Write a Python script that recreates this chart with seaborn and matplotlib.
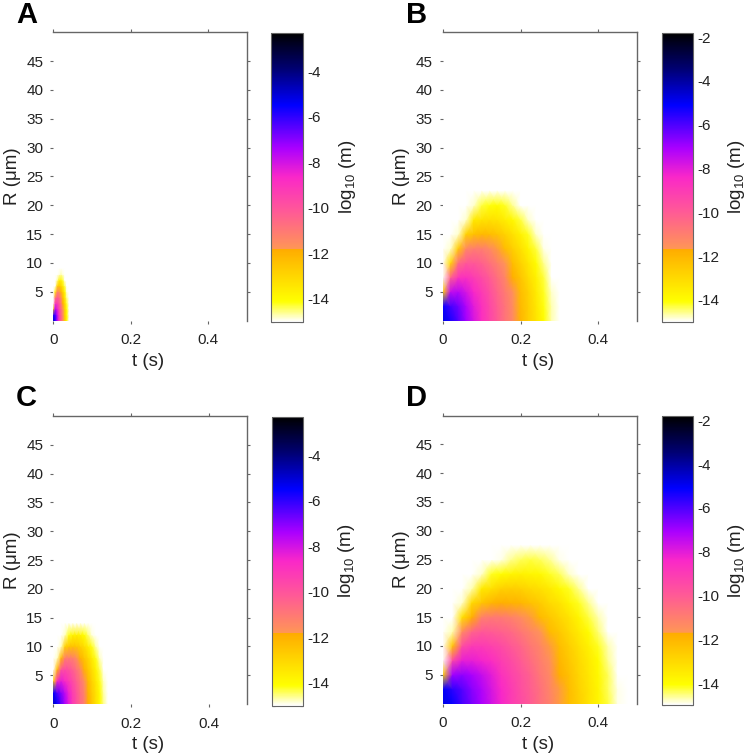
import matplotlib
matplotlib.use("Agg")
import matplotlib.pyplot as plt
import pandas as pd
import seaborn as sns
from matplotlib.colors import LinearSegmentedColormap

# log10(m) at each t (columns) and R (rows)
a_t = [0, 0.005, 0.01, 0.015, 0.02, 0.025, 0.03, 0.035, 0.04]
a_r = [0, 1, 2, 3, 4, 5, 6, 7, 8, 9]
a_values = [
    [-4.8, -5.8, -7.4, -9.0, -10.3, -11.5, -12.7, -13.9, -15],
    [-6, -6.2, -7.6, -9.1, -10.4, -11.6, -12.8, -13.9, -15],
    [-13, -7.6, -8.3, -9.5, -10.6, -11.7, -12.9, -14.1, -15],
    [-15, -9.3, -9.2, -10.0, -11.0, -12.0, -13.1, -14.3, -15],
    [-15, -11.3, -10.2, -10.6, -11.5, -12.4, -13.5, -14.6, -15],
    [-15, -13.8, -11.5, -11.5, -12.1, -12.9, -13.9, -14.9, -15],
    [-15, -15, -13.0, -12.5, -12.9, -13.6, -14.4, -15, -15],
    [-15, -15, -14.7, -13.8, -13.8, -14.3, -15, -15, -15],
    [-15, -15, -15, -14.9, -14.7, -14.9, -15, -15, -15],
    [-15, -15, -15, -15, -15, -15, -15, -15, -15],
]

b_t = [0, 0.02, 0.04, 0.06, 0.08, 0.10, 0.12, 0.14, 0.16, 0.18, 0.20, 0.22, 0.24, 0.26, 0.28, 0.30]
b_r = [0, 2.5, 5, 7.5, 10, 12.5, 15, 17.5, 20, 22.5]
b_values = [
    [-4.8, -5.4, -6.1, -7.0, -7.8, -8.6, -9.3, -10.0, -10.7, -11.3, -12.0, -12.7, -13.3, -14.0, -14.7, -15],
    [-5.2, -5.9, -6.4, -7.2, -8.0, -8.7, -9.4, -10.1, -10.7, -11.4, -12.1, -12.7, -13.4, -14.1, -14.7, -15],
    [-13, -7.5, -7.3, -7.8, -8.4, -9.0, -9.6, -10.3, -10.9, -11.5, -12.2, -12.8, -13.5, -14.2, -14.8, -15],
    [-15, -10.3, -8.8, -8.7, -9.1, -9.5, -10.0, -10.6, -11.2, -11.8, -12.4, -13.1, -13.7, -14.3, -15, -15],
    [-15, -13.0, -10.5, -9.9, -9.9, -10.2, -10.6, -11.1, -11.6, -12.2, -12.8, -13.4, -14.0, -14.6, -15, -15],
    [-15, -14.8, -12.6, -11.3, -11.0, -11.0, -11.3, -11.7, -12.2, -12.7, -13.2, -13.8, -14.3, -14.9, -15, -15],
    [-15, -15, -14.8, -12.8, -12.3, -12.1, -12.2, -12.4, -12.8, -13.2, -13.7, -14.2, -14.8, -15, -15, -15],
    [-15, -15, -15, -14.8, -13.5, -13.3, -13.2, -13.3, -13.6, -13.9, -14.3, -14.8, -15, -15, -15, -15],
    [-15, -15, -15, -15, -14.8, -14.3, -14.1, -14.0, -14.2, -14.6, -15, -15, -15, -15, -15, -15],
    [-15, -15, -15, -15, -15, -15, -15, -15, -15, -15, -15, -15, -15, -15, -15, -15],
]

c_t = [0, 0.01, 0.02, 0.03, 0.04, 0.05, 0.06, 0.07, 0.08, 0.09, 0.10, 0.11, 0.12, 0.13, 0.14]
c_r = [0, 2, 4, 6, 8, 10, 12, 14]
c_values = [
    [-4.8, -5.5, -6.5, -7.4, -8.3, -9.2, -9.9, -10.6, -11.2, -11.9, -12.6, -13.3, -14.0, -14.6, -15],
    [-5.5, -6.4, -7.0, -7.7, -8.5, -9.3, -10.0, -10.7, -11.3, -12.0, -12.7, -13.3, -14.0, -14.7, -15],
    [-13, -8.8, -8.3, -8.7, -9.2, -9.7, -10.3, -10.9, -11.6, -12.2, -12.9, -13.5, -14.2, -14.8, -15],
    [-15, -12.2, -10.0, -9.7, -9.9, -10.3, -10.8, -11.4, -12.0, -12.6, -13.2, -13.8, -14.4, -15, -15],
    [-15, -14.8, -12.2, -11.2, -11.1, -11.2, -11.6, -12.0, -12.5, -13.0, -13.6, -14.2, -14.8, -15, -15],
    [-15, -15, -14.8, -12.9, -12.5, -12.4, -12.5, -12.8, -13.2, -13.7, -14.2, -14.7, -15, -15, -15],
    [-15, -15, -15, -14.8, -14.2, -13.8, -13.7, -13.8, -14.1, -14.5, -14.9, -15, -15, -15, -15],
    [-15, -15, -15, -15, -15, -15, -15, -15, -15, -15, -15, -15, -15, -15, -15],
]

d_t = [0, 0.025, 0.05, 0.075, 0.10, 0.125, 0.15, 0.175, 0.20, 0.225, 0.25, 0.275, 0.30, 0.325, 0.35, 0.375, 0.40, 0.425, 0.45, 0.475]
d_r = [0, 2.5, 5, 7.5, 10, 12.5, 15, 17.5, 20, 22.5, 25, 27.5]
d_values = [
    [-4.8, -5.2, -5.9, -6.5, -7.1, -7.7, -8.3, -9.0, -9.5, -10.0, -10.6, -11.1, -11.7, -12.2, -12.7, -13.3, -13.8, -14.3, -14.9, -15],
    [-5, -5.6, -6.1, -6.7, -7.2, -7.8, -8.4, -9.0, -9.6, -10.1, -10.6, -11.2, -11.7, -12.2, -12.8, -13.3, -13.8, -14.4, -14.9, -15],
    [-13, -7.0, -6.8, -7.1, -7.5, -8.0, -8.7, -9.2, -9.7, -10.2, -10.8, -11.3, -11.8, -12.3, -12.9, -13.4, -13.9, -14.4, -15, -15],
    [-15, -9.5, -8.1, -8.1, -8.3, -8.6, -9.1, -9.5, -10.0, -10.5, -11.0, -11.5, -12.0, -12.5, -13.0, -13.5, -14.0, -14.6, -15, -15],
    [-15, -12.4, -9.6, -9.0, -9.0, -9.2, -9.5, -9.9, -10.3, -10.8, -11.2, -11.7, -12.2, -12.7, -13.2, -13.7, -14.2, -14.7, -15, -15],
    [-15, -14.7, -11.4, -10.3, -9.9, -10.0, -10.2, -10.4, -10.8, -11.2, -11.6, -12.1, -12.5, -13.0, -13.5, -14.0, -14.5, -15, -15, -15],
    [-15, -15, -13.2, -11.8, -11.1, -10.9, -10.9, -11.1, -11.4, -11.7, -12.1, -12.5, -12.9, -13.3, -13.8, -14.3, -14.7, -15, -15, -15],
    [-15, -15, -14.8, -13.0, -12.4, -12.0, -11.8, -11.9, -12.0, -12.3, -12.6, -13.0, -13.3, -13.8, -14.2, -14.6, -15, -15, -15, -15],
    [-15, -15, -15, -14.7, -13.5, -13.2, -12.8, -12.7, -12.8, -13.0, -13.2, -13.5, -13.9, -14.2, -14.6, -15, -15, -15, -15, -15],
    [-15, -15, -15, -15, -14.8, -14.2, -14.0, -13.8, -13.7, -13.8, -13.9, -14.2, -14.4, -14.8, -15, -15, -15, -15, -15, -15],
    [-15, -15, -15, -15, -15, -15, -14.9, -14.6, -14.4, -14.3, -14.4, -14.6, -14.9, -15, -15, -15, -15, -15, -15, -15],
    [-15, -15, -15, -15, -15, -15, -15, -15, -15, -15, -15, -15, -15, -15, -15, -15, -15, -15, -15, -15],
]

t_ticks = [0, 0.2, 0.4]
t_labels = ["0", "0.2", "0.4"]
r_ticks = [5, 10, 15, 20, 25, 30, 35, 40, 45]
vmin = -15
a_vmax, b_vmax, c_vmax, d_vmax = -2.3, -1.8, -2.3, -1.8

sns.set_theme(style="white")
plt.rcParams["font.family"] = ["Liberation Sans", "DejaVu Sans"]
plt.rcParams["mathtext.default"] = "regular"
plt.rcParams["axes.unicode_minus"] = False

W, H = 752, 756
TEXT = "#222222"
EDGE = "#666666"


def rgb(r, g, b):
    return (r / 255, g / 255, b / 255)


# white-yellow-orange, jump to salmon, then pink-purple-blue-black
cmap = LinearSegmentedColormap.from_list("m_map", [
    (0.0, rgb(255, 255, 255)),
    (0.07, rgb(255, 255, 0)),
    (0.249, rgb(255, 172, 0)),
    (0.251, rgb(255, 150, 85)),
    (0.38, rgb(255, 90, 150)),
    (0.5, rgb(250, 40, 200)),
    (0.6, rgb(170, 0, 255)),
    (0.75, rgb(0, 0, 255)),
    (0.875, rgb(0, 0, 115)),
    (1.0, rgb(0, 0, 0)),
], N=512)


def px_axes(fig, left, top, right, bottom):
    return fig.add_axes([left / W, 1 - bottom / H, (right - left) / W, (bottom - top) / H])


def draw_panel(fig, letter, letter_x, letter_y, box, bar, t, r, values, vmax):
    ax = px_axes(fig, *box)
    cax = px_axes(fig, *bar)
    table = pd.DataFrame(values, index=r, columns=t)
    # gouraud keeps the field smooth like the original image
    sns.heatmap(table, ax=ax, cbar_ax=cax, cmap=cmap, vmin=vmin, vmax=vmax,
                xticklabels=False, yticklabels=False, shading="gouraud")
    t_step = t[1] - t[0]
    r_step = r[1] - r[0]
    ax.set_xlim(0, 0.5 / t_step)
    ax.set_ylim(0, 50 / r_step)
    ax.set_xticks([v / t_step for v in t_ticks])
    ax.set_xticklabels(t_labels)
    ax.set_yticks([v / r_step for v in r_ticks])
    ax.set_yticklabels([str(v) for v in r_ticks])
    ax.tick_params(axis="both", direction="out", length=2, width=0.8, color=EDGE,
                   labelsize=11, labelcolor=TEXT, top=True, right=True, bottom=True, left=True)
    ax.tick_params(axis="y", length=2.5, pad=4.7)
    ax.tick_params(axis="x", pad=7)
    for side, visible in dict(top=True, right=True, left=False, bottom=False).items():
        ax.spines[side].set_visible(visible)
        ax.spines[side].set_color(EDGE)
        ax.spines[side].set_linewidth(1.0)
    ax.set_xlabel("t (s)", fontsize=13.5, color=TEXT)
    ax.xaxis.set_label_coords(0.49, -0.142, ax.transAxes)
    ax.set_ylabel("R (μm)", fontsize=13.5, color=TEXT)
    ax.yaxis.set_label_coords(-0.21, 0.5, ax.transAxes)
    ax.xaxis.label.set_va("center")
    ax.yaxis.label.set_va("center")

    cb = ax.collections[0].colorbar
    bar_ticks = list(range(-14, int(vmax), 2))
    cb.set_ticks([vmin] + bar_ticks)
    cb.set_ticklabels([""] + [str(v) for v in bar_ticks])
    cb.outline.set_linewidth(0.8)
    cb.outline.set_edgecolor(EDGE)
    cax.tick_params(axis="y", direction="in", length=2, width=0.8, color="#333333", left=True, right=True,
                    labelsize=11, labelcolor=TEXT, pad=3)
    cax.set_ylabel("log$_{10}$ (m)", fontsize=13.5, color=TEXT)
    cax.yaxis.set_label_position("right")
    cax.yaxis.set_label_coords(2.38, 0.5, cax.transAxes)
    cax.yaxis.label.set_va("center")

    fig.text(letter_x / W, 1 - letter_y / H, letter, fontsize=21, fontweight="bold",
             color="black", ha="left", va="center")


fig = plt.figure(figsize=(W / 100, H / 100), dpi=100)
draw_panel(fig, "A", 16, 15, (53.3, 32.3, 247, 320.5), (271, 32.7, 303, 321.7), a_t, a_r, a_values, a_vmax)
draw_panel(fig, "B", 406, 15, (442.7, 32.3, 637.3, 320.5), (661.7, 32.7, 693.3, 321.7), b_t, b_r, b_values, b_vmax)
draw_panel(fig, "C", 16, 398, (53.3, 416, 247.3, 704), (271.7, 416.7, 303.3, 705.7), c_t, c_r, c_values, c_vmax)
draw_panel(fig, "D", 406, 398, (442.7, 415.5, 637.3, 703.5), (661.7, 416, 693.3, 705), d_t, d_r, d_values, d_vmax)

fig.savefig("out.png", dpi=100)
